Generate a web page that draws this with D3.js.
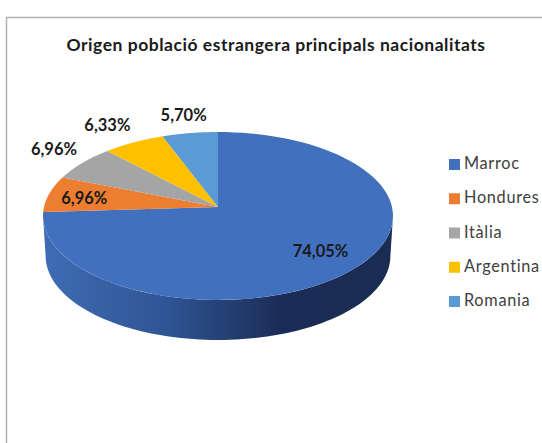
<!DOCTYPE html>
<html>
<head>
<meta charset="utf-8">
<script src="https://cdn.jsdelivr.net/npm/d3@7"></script>
<style>
    html, body { margin: 0; padding: 0; background: #fff; overflow: hidden; }
    svg { display: block; }
    text { font-family: Lato, "Open Sans", sans-serif; fill: #1a1a1a; }
</style>
</head>
<body>
<svg id="chart" width="542" height="443"></svg>
<script>
const categories = ["Marroc", "Hondures", "Itàlia", "Argentina", "Romania"];
const shares = [74.05, 6.96, 6.96, 6.33, 5.70];
const shareLabels = ["74,05%", "6,96%", "6,96%", "6,33%", "5,70%"];
const colors = ["#4170bf", "#ed7d31", "#a5a5a5", "#ffc000", "#5b9bd5"];
const title = "Origen població estrangera principals nacionalitats";

const width = 542;
const height = 443;
const svg = d3.select("#chart");

// chart frame, runs off the bottom and right of the picture
svg.append("rect")
    .attr("x", 6.5).attr("y", 17.5)
    .attr("width", width).attr("height", height)
    .attr("fill", "#fff")
    .attr("stroke", "#b0b0b0")
    .attr("stroke-width", 1.5);

svg.append("text")
    .attr("x", 276).attr("y", 51)
    .attr("text-anchor", "middle")
    .attr("font-size", 17.5)
    .attr("letter-spacing", 0.53)
    .attr("font-weight", 700)
    .text(title);

// tilted disc: angle 0 is at the back, clockwise, with a little perspective
const apex = { x: 218, y: 207 };
const radiusX = 174, radiusY = 83, persp = 0.107, depth = 40;

const project = (angle, drop = 0) => {
    const u = Math.sin(angle), v = Math.cos(angle);
    const w = 1 + persp * v;
    const shrink = drop ? 0.985 : 1;
    return [apex.x + shrink * radiusX * u / w, apex.y + drop - radiusY * v / w];
};

const arcPoints = (a0, a1, drop = 0) =>
    d3.range(0, 1.0001, 1 / 90).map(t => project(a0 + (a1 - a0) * t, drop));

const line = d3.line();
const pie = d3.pie().sort(null).value(d => d.value);
const slices = pie(categories.map((name, i) => ({ name, value: shares[i], i })));

// side wall of the front of the disc
const grad = svg.append("defs").append("linearGradient")
    .attr("id", "wall")
    .attr("gradientUnits", "userSpaceOnUse")
    .attr("x1", 43).attr("x2", 393).attr("y1", 0).attr("y2", 0);
grad.append("stop").attr("offset", "0").attr("stop-color", "#3f6cb4");
grad.append("stop").attr("offset", "0.35").attr("stop-color", "#2f5594");
grad.append("stop").attr("offset", "0.68").attr("stop-color", "#1b2d57");
grad.append("stop").attr("offset", "1").attr("stop-color", "#1a2c52");

// the visible edge goes between the two sideways extremes of the ellipse
const sideAngle = Math.acos(-persp);
const wallTop = arcPoints(sideAngle, 2 * Math.PI - sideAngle, 0);
const wallBottom = arcPoints(2 * Math.PI - sideAngle, sideAngle, depth);
svg.append("path")
    .attr("d", line(wallTop.concat(wallBottom)) + "Z")
    .attr("fill", "url(#wall)");

svg.selectAll("path.slice")
    .data(slices)
    .join("path")
    .attr("class", "slice")
    .attr("fill", d => colors[d.data.i])
    .attr("d", d => line([[apex.x, apex.y]].concat(arcPoints(d.startAngle, d.endAngle))) + "Z");

// data labels sit on or just outside the rim
const labelRadius = [0.62, 0.72, 1.16, 1.17, 1.14];
const labelNudge = [[24, 10], [-10, 1], [3, -3], [-3, 1], [1, 2]];
svg.selectAll("text.value")
    .data(slices)
    .join("text")
    .attr("class", "value")
    .attr("text-anchor", "middle")
    .attr("font-size", 16.5)
    .attr("font-weight", 700)
    .attr("x", d => {
        const mid = (d.startAngle + d.endAngle) / 2;
        return apex.x + labelRadius[d.data.i] * radiusX * Math.sin(mid) + labelNudge[d.data.i][0];
    })
    .attr("y", d => {
        const mid = (d.startAngle + d.endAngle) / 2;
        return apex.y - labelRadius[d.data.i] * radiusY * Math.cos(mid) + 5 + labelNudge[d.data.i][1];
    })
    .text(d => shareLabels[d.data.i]);

// legend
const legendY = d3.scalePoint().domain(categories).range([164, 301]);
const legend = svg.selectAll("g.legend")
    .data(categories)
    .join("g")
    .attr("class", "legend")
    .attr("transform", d => `translate(449,${legendY(d)})`);
legend.append("rect")
    .attr("x", 0).attr("y", -5)
    .attr("width", 11).attr("height", 11)
    .attr("fill", (d, i) => colors[i]);
legend.append("text")
    .attr("x", 15).attr("y", 5)
    .attr("font-size", 16.3)
    .attr("letter-spacing", 0.7)
    .style("fill", "#404040")
    .text(d => d);
</script>
</body>
</html>
